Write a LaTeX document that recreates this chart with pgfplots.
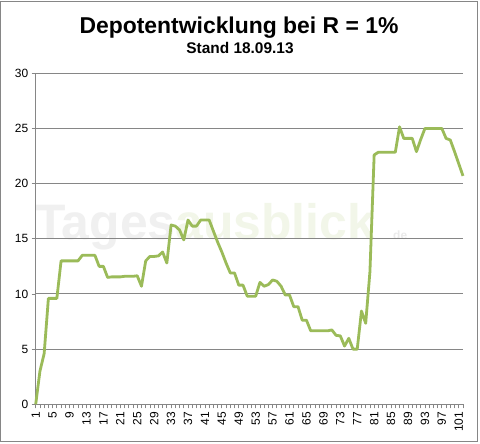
\documentclass[border=0pt]{standalone}
\usepackage{pgfplots}
\pgfplotsset{compat=1.18}
\usepackage{fontspec}
\setmainfont{Liberation Sans}
\definecolor{lineg}{HTML}{9BBB59}
\definecolor{gridg}{HTML}{868686}
\pgfplotstableread{
i v
1 0
2 3.0
3 4.6
4 9.6
5 9.6
6 9.6
7 13.0
8 13.0
9 13.0
10 13.0
11 13.0
12 13.5
13 13.5
14 13.5
15 13.5
16 12.5
17 12.5
18 11.5
19 11.55
20 11.55
21 11.55
22 11.6
23 11.6
24 11.6
25 11.65
26 10.7
27 13.0
28 13.4
29 13.4
30 13.45
31 13.8
32 12.8
33 16.25
34 16.15
35 15.8
36 14.9
37 16.7
38 16.15
39 16.15
40 16.7
41 16.7
42 16.7
43 15.7
44 14.7
45 13.8
46 12.8
47 11.9
48 11.9
49 10.8
50 10.8
51 9.8
52 9.8
53 9.8
54 11.05
55 10.7
56 10.85
57 11.27
58 11.15
59 10.7
60 9.9
61 9.9
62 8.85
63 8.85
64 7.62
65 7.62
66 6.66
67 6.66
68 6.66
69 6.66
70 6.66
71 6.74
72 6.25
73 6.2
74 5.28
75 5.98
76 5.0
77 5.0
78 8.45
79 7.34
80 12.0
81 22.6
82 22.85
83 22.85
84 22.85
85 22.85
86 22.85
87 25.15
88 24.1
89 24.1
90 24.1
91 22.9
92 24.0
93 25.0
94 25.0
95 25.0
96 25.0
97 25.0
98 24.1
99 23.95
100 22.9
101 21.8
102 20.7
}\depot
\begin{document}
\begin{tikzpicture}
\useasboundingbox (0bp,0bp) rectangle (480bp,444bp);
\fill[white] (0bp,0bp) rectangle (480bp,444bp);
\draw[gridg, line width=1bp] (0.7bp,2.3bp) rectangle (477bp,442.3bp);
\node[anchor=base, inner sep=0, font=\fontsize{23}{26}\selectfont\bfseries] at (239bp,410.7bp) {Depotentwicklung bei R = 1\%};
\node[anchor=base, inner sep=0, font=\fontsize{15.5}{18}\selectfont\bfseries] at (240bp,390.7bp) {Stand 18.09.13};
\node[anchor=base west, inner sep=0, font=\fontsize{50}{56}\selectfont\bfseries] at (35bp,204bp) {\textcolor{black!6}{Tages}\textcolor{lineg!13}{ausblick}};
\node[anchor=base west, inner sep=0, font=\fontsize{12}{14}\selectfont\bfseries] at (393bp,204bp) {\textcolor{black!8}{de}};
\begin{axis}[
  at={(35.7bp,39.7bp)}, anchor=south west,
  scale only axis, width=427.3bp, height=331bp,
  xmin=1, xmax=102, ymin=0, ymax=30,
  axis x line=bottom, axis y line=left,
  axis line style={gridg, line width=1bp, -},
  ytick={0,5,...,30}, ymajorgrids,
  grid style={gridg, line width=1bp},
  xtick={1,5,...,101}, minor xtick={1,...,102},
  tick align=outside, major tick length=4bp, minor tick length=4bp,
  tick style={gridg, line width=0.8bp},
  /pgf/number format/assume math mode=true,
  ticklabel style={font=\fontsize{12}{14}\selectfont, text=black},
  xticklabel style={rotate=90, anchor=east},
  clip=false,
]
\addplot[lineg, line width=2.8bp, line join=round, mark=none] table[x=i, y=v] {\depot};
\end{axis}
\end{tikzpicture}
\end{document}
